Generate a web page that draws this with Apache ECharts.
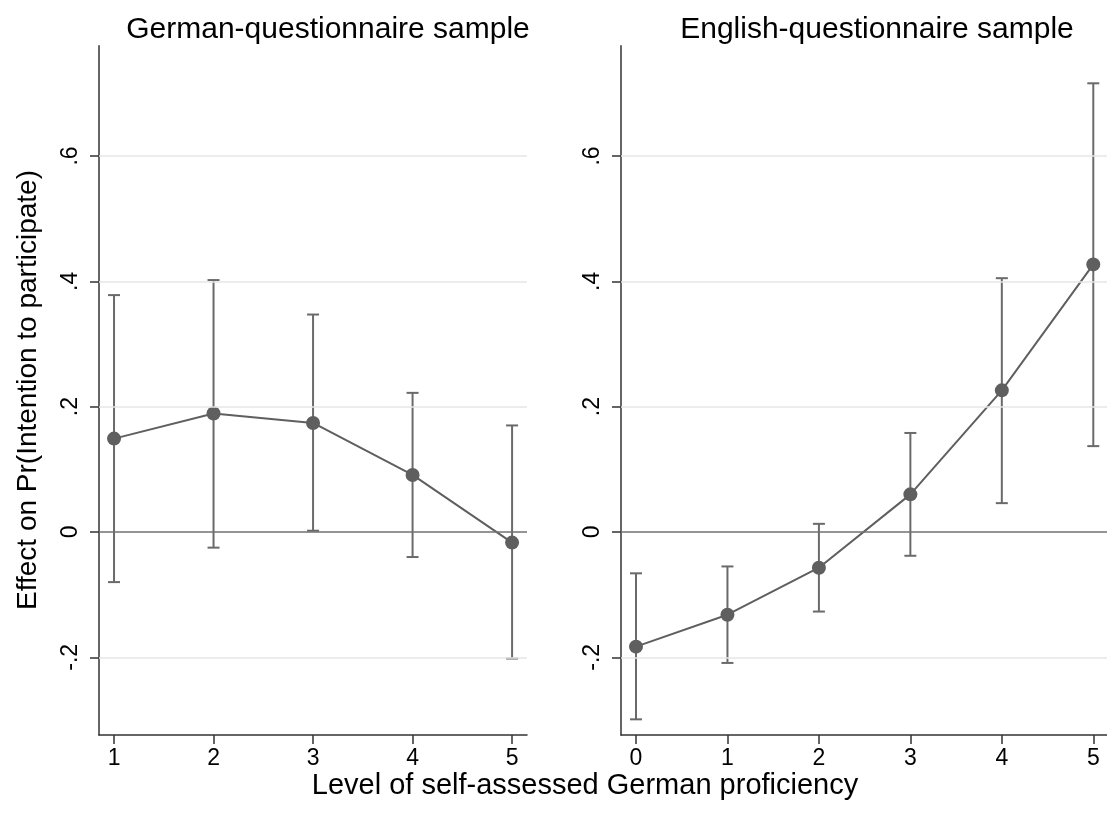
<!DOCTYPE html>
<html>
<head>
<meta charset="utf-8">
<script src="https://cdn.jsdelivr.net/npm/echarts@6/dist/echarts.min.js"></script>
<style>html,body{margin:0;padding:0;background:#fff}#c{width:1107px;height:818px}</style>
</head>
<body>
<div id="c"></div>
<script>
const panelTitles = ['German-questionnaire sample', 'English-questionnaire sample'];
const xTitle = 'Level of self-assessed German proficiency';
const yTitle = 'Effect on Pr(Intention to participate)';

const leftX = [1, 2, 3, 4, 5];
const leftEst = [0.149, 0.189, 0.174, 0.091, -0.017];
const leftLo = [-0.080, -0.025, 0.002, -0.040, -0.202];
const leftHi = [0.378, 0.402, 0.347, 0.222, 0.170];

const rightX = [0, 1, 2, 3, 4, 5];
const rightEst = [-0.183, -0.132, -0.057, 0.060, 0.226, 0.427];
const rightLo = [-0.299, -0.209, -0.127, -0.038, 0.046, 0.137];
const rightHi = [-0.066, -0.055, 0.013, 0.158, 0.405, 0.716];

const yTicks = [-0.2, 0, 0.2, 0.4, 0.6];
const gridTicks = [-0.2, 0.2, 0.4, 0.6];

const FONT = 'Liberation Sans, Arial, Helvetica, sans-serif';
const SER = '#5f5f5f';
const AX = '#333333';

function fmtY(v) {
  if (Math.abs(v) < 1e-9) return '0';
  const s = String(Math.round(Math.abs(v) * 10) / 10).replace(/^0/, '');
  return (v < 0 ? '-' : '') + s;
}

const chart = echarts.init(document.getElementById('c'), null, {renderer: 'canvas'});

function xAxisCfg(idx, min, max, ticks) {
  return {
    type: 'value', gridIndex: idx, min: min, max: max,
    axisLine: {show: true, onZero: false, lineStyle: {color: AX, width: 1.5}},
    axisTick: {show: true, length: 9, customValues: ticks, lineStyle: {color: AX, width: 1.5}},
    axisLabel: {customValues: ticks, color: '#000', fontFamily: FONT, fontSize: 23, margin: 12},
    splitLine: {show: false}
  };
}
function yAxisCfg(idx) {
  return {
    type: 'value', gridIndex: idx, min: -0.324, max: 0.776,
    axisLine: {show: true, onZero: false, lineStyle: {color: AX, width: 1.5}},
    axisTick: {show: true, length: 9, customValues: yTicks, lineStyle: {color: AX, width: 1.5}},
    axisLabel: {customValues: yTicks, rotate: 90, color: '#000', fontFamily: FONT, fontSize: 23, margin: 17, formatter: fmtY},
    splitLine: {show: false}
  };
}

function errSeries(idx, xs, lo, hi) {
  return {
    type: 'custom', xAxisIndex: idx, yAxisIndex: idx, z: 2, silent: true,
    data: xs.map((x, i) => [x, lo[i], hi[i]]),
    renderItem: function (params, api) {
      const x = api.value(0);
      const p1 = api.coord([x, api.value(1)]);
      const p2 = api.coord([x, api.value(2)]);
      const w = 6;
      const st = {stroke: '#6a6a6a', lineWidth: 2};
      return {
        type: 'group',
        children: [
          {type: 'line', shape: {x1: p1[0], y1: p1[1], x2: p2[0], y2: p2[1]}, style: st},
          {type: 'line', shape: {x1: p1[0] - w, y1: p1[1], x2: p1[0] + w, y2: p1[1]}, style: st},
          {type: 'line', shape: {x1: p2[0] - w, y1: p2[1], x2: p2[0] + w, y2: p2[1]}, style: st}
        ]
      };
    }
  };
}
function gridSeries(idx, xs, est) {
  return {
    type: 'line', xAxisIndex: idx, yAxisIndex: idx, z: 1, silent: true,
    data: xs.map((x, i) => [x, est[i]]), symbol: 'none', lineStyle: {opacity: 0},
    markLine: {
      silent: true, symbol: 'none', label: {show: false},
      data: gridTicks.map(v => ({yAxis: v, lineStyle: {color: '#e6e6e6', width: 1.5, type: 'solid'}}))
        .concat([{yAxis: 0, lineStyle: {color: '#707070', width: 1.5, type: 'solid'}}])
    }
  };
}
function lineSeries(idx, xs, est) {
  return {
    type: 'line', xAxisIndex: idx, yAxisIndex: idx, z: 3, silent: true,
    data: xs.map((x, i) => [x, est[i]]),
    symbol: 'circle', symbolSize: 14,
    itemStyle: {color: SER},
    lineStyle: {color: SER, width: 2}
  };
}

chart.setOption({
  animation: false,
  backgroundColor: '#fff',
  title: [
    {text: panelTitles[0], left: 323, top: 10, textAlign: 'center', textStyle: {fontFamily: FONT, fontSize: 30, fontWeight: 'normal', color: '#000'}},
    {text: panelTitles[1], left: 872, top: 10, textAlign: 'center', textStyle: {fontFamily: FONT, fontSize: 30, fontWeight: 'normal', color: '#000'}},
    {text: xTitle, left: 580, top: 766, textAlign: 'center', textStyle: {fontFamily: FONT, fontSize: 29, fontWeight: 'normal', color: '#000'}}
  ],
  graphic: [
    {type: 'text', x: 28, y: 390, rotation: Math.PI / 2,
     style: {text: yTitle, fill: '#000', font: '28px ' + FONT, align: 'center', verticalAlign: 'middle'}}
  ],
  grid: [
    {left: 99, top: 45.7, width: 428, height: 689.3},
    {left: 621, top: 45.7, width: 486, height: 689.3}
  ],
  xAxis: [
    xAxisCfg(0, 0.849, 5.15, leftX),
    xAxisCfg(1, -0.164, 5.15, rightX)
  ],
  yAxis: [yAxisCfg(0), yAxisCfg(1)],
  series: [
    gridSeries(0, leftX, leftEst),
    errSeries(0, leftX, leftLo, leftHi),
    lineSeries(0, leftX, leftEst),
    gridSeries(1, rightX, rightEst),
    errSeries(1, rightX, rightLo, rightHi),
    lineSeries(1, rightX, rightEst)
  ]
});
</script>
</body>
</html>
